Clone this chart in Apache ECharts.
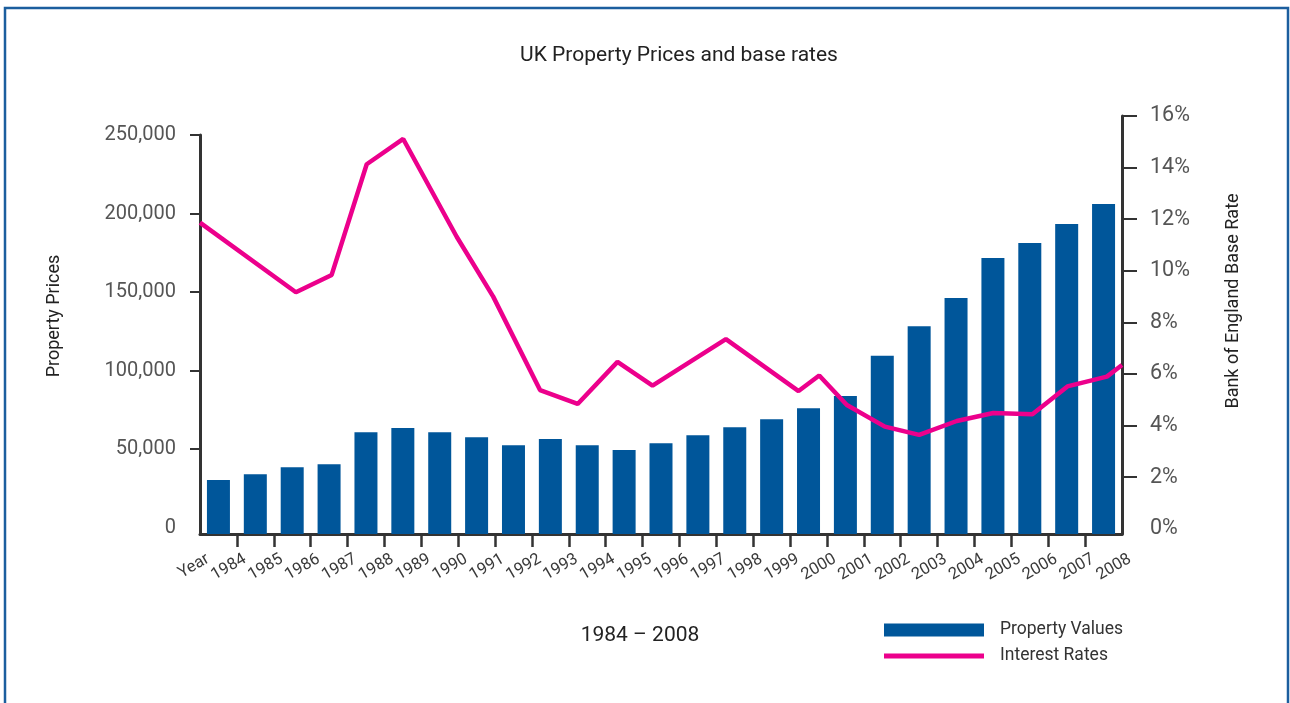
<!DOCTYPE html>
<html>
<head>
<meta charset="utf-8">
<title>UK Property Prices and base rates</title>
<script src="https://cdn.jsdelivr.net/npm/echarts@6/dist/echarts.min.js"></script>
<style>
  html, body { margin: 0; padding: 0; background: #fff; }
  #chart { width: 1290px; height: 703px; }
</style>
</head>
<body>
<div id="chart"></div>
<script>
// bar data, one per year
const years = ['1984', '1985', '1986', '1987', '1988', '1989', '1990', '1991', '1992', '1993',
  '1994', '1995', '1996', '1997', '1998', '1999', '2000', '2001', '2002', '2003',
  '2004', '2005', '2006', '2007', '2008'];
const propertyValues = [30300, 34100, 38500, 40400, 60800, 63400, 60800, 57600, 52500, 56400,
  52500, 49400, 53800, 58900, 64000, 69100, 76100, 83800, 109400, 128300,
  146200, 171700, 181200, 193300, 206000];

// base rate line: time (year) and rate (%)
const rateTimes = [1983.00, 1985.60, 1986.57, 1987.52, 1988.51, 1989.96, 1990.95, 1992.22,
  1993.24, 1994.32, 1995.27, 1997.26, 1999.23, 1999.79, 2000.54, 2001.57, 2002.50,
  2003.52, 2004.51, 2005.57, 2006.52, 2007.59, 2008.00];
const rates = [11.87, 9.17, 9.84, 14.13, 15.11, 11.32, 9.00, 5.38,
  4.84, 6.47, 5.55, 7.35, 5.34, 5.94, 4.80, 3.96, 3.64,
  4.18, 4.49, 4.44, 5.52, 5.90, 6.35];

// tick labels
const xTickLabels = ['Year', '1984', '1985', '1986', '1987', '1988', '1989', '1990', '1991', '1992',
  '1993', '1994', '1995', '1996', '1997', '1998', '1999', '2000', '2001', '2002',
  '2003', '2004', '2005', '2006', '2007', '2008'];
const priceTicks = [0, 50000, 100000, 150000, 200000, 250000];
const rateTicks = [0, 2, 4, 6, 8, 10, 12, 14, 16];

const FONT = 'Roboto, "Open Sans", sans-serif';
const axisColor = '#333';
const labelColor = '#555';
const barColor = '#00569a';
const lineColor = '#ec008c';

var chart = echarts.init(document.getElementById('chart'));

// x positions of the boundaries (Year .. 2008)
const xTickValues = xTickLabels.map((_, i) => 1983 + i);

chart.setOption({
  animation: false,
  textStyle: { fontFamily: FONT },
  grid: [
    { left: 200, right: 168, top: 135, bottom: 169 },  // bars
    { left: 200, right: 168, top: 116, bottom: 169 },  // line
    { left: 208, right: 160, top: 116, bottom: 169 }   // x labels
  ],
  xAxis: [
    {
      type: 'category', gridIndex: 0, data: years, boundaryGap: true,
      axisLine: { onZero: false, lineStyle: { color: axisColor, width: 3 } },
      axisTick: { show: false }, axisLabel: { show: false }
    },
    {
      type: 'value', gridIndex: 1, min: 1983, max: 2008,
      axisLine: { show: false, onZero: false }, splitLine: { show: false },
      axisTick: { show: true, length: 13, customValues: xTickValues.slice(1, -1),
        lineStyle: { color: axisColor, width: 2.5 } },
      axisLabel: { show: false }
    },
    {
      type: 'value', gridIndex: 2, min: 1983, max: 2008,
      axisLine: { show: false, onZero: false }, splitLine: { show: false }, axisTick: { show: false },
      axisLabel: {
        customValues: xTickValues, rotate: 30, margin: 24,
        fontSize: 16.5, color: '#3a3a3a', fontFamily: FONT,
        formatter: v => xTickLabels[Math.round(v - 1983)]
      }
    }
  ],
  yAxis: [
    {
      type: 'value', gridIndex: 0, position: 'left', min: -4000, max: 250000, startValue: -4000,
      splitLine: { show: false },
      axisLine: { show: true, onZero: false, lineStyle: { color: axisColor, width: 3 } },
      axisTick: { show: true, length: 10, customValues: priceTicks.slice(1),
        lineStyle: { color: axisColor, width: 2 } },
      axisLabel: { customValues: priceTicks, margin: 24, fontSize: 20, color: labelColor,
        fontFamily: FONT, formatter: v => v.toLocaleString('en-GB') }
    },
    {
      type: 'value', gridIndex: 1, position: 'right', min: -0.2, max: 16,
      splitLine: { show: false },
      axisLine: { show: true, onZero: false, lineStyle: { color: axisColor, width: 3 } },
      axisTick: { show: true, length: 15, customValues: rateTicks.slice(1),
        lineStyle: { color: axisColor, width: 2 } },
      axisLabel: { customValues: rateTicks, margin: 28, fontSize: 21.5, color: labelColor,
        fontFamily: FONT, formatter: v => v + '%' }
    },
    {
      type: 'value', gridIndex: 2, min: 0, max: 1, show: false
    }
  ],
  legend: {
    orient: 'vertical', left: 884, top: 621, padding: 0,
    itemWidth: 100, itemHeight: 13, itemGap: 8,
    textStyle: { fontSize: 17.5, color: '#333', fontFamily: FONT, padding: [0, 0, 0, 11] },
    data: [
      { name: 'Property Values', icon: 'rect' },
      { name: 'Interest Rates', icon: 'path://M0,0L0,0M0,13L0,13M0,4L100,4L100,9L0,9Z',
        itemStyle: { color: lineColor, borderWidth: 0 } }
    ]
  },
  series: [
    {
      name: 'Property Values', type: 'bar', xAxisIndex: 0, yAxisIndex: 0,
      data: propertyValues, barWidth: 23,
      itemStyle: { color: barColor }
    },
    {
      name: 'Interest Rates', type: 'line', xAxisIndex: 1, yAxisIndex: 1,
      data: rateTimes.map((t, i) => [t, rates[i]]),
      symbol: 'none', lineStyle: { color: lineColor, width: 4.5 },
      itemStyle: { color: lineColor }
    }
  ],
  graphic: [
    { type: 'rect', shape: { x: 5, y: 8, width: 1283, height: 720 },
      style: { fill: 'none', stroke: '#1b5e9e', lineWidth: 2.5 }, silent: true },
    { type: 'text', x: 679, y: 56,
      style: { text: 'UK Property Prices and base rates', font: '21px ' + FONT, fill: '#222',
        textAlign: 'center', textVerticalAlign: 'middle' } },
    { type: 'text', x: 54, y: 316, rotation: Math.PI / 2,
      style: { text: 'Property Prices', font: '18px ' + FONT, fill: '#222',
        textAlign: 'center', textVerticalAlign: 'middle' } },
    { type: 'text', x: 1233, y: 301, rotation: Math.PI / 2,
      style: { text: 'Bank of England Base Rate', font: '18px ' + FONT, fill: '#222',
        textAlign: 'center', textVerticalAlign: 'middle' } },
    { type: 'text', x: 640, y: 636,
      style: { text: '1984 – 2008', font: '21px ' + FONT, fill: '#222',
        textAlign: 'center', textVerticalAlign: 'middle' } }
  ]
});
</script>
</body>
</html>
